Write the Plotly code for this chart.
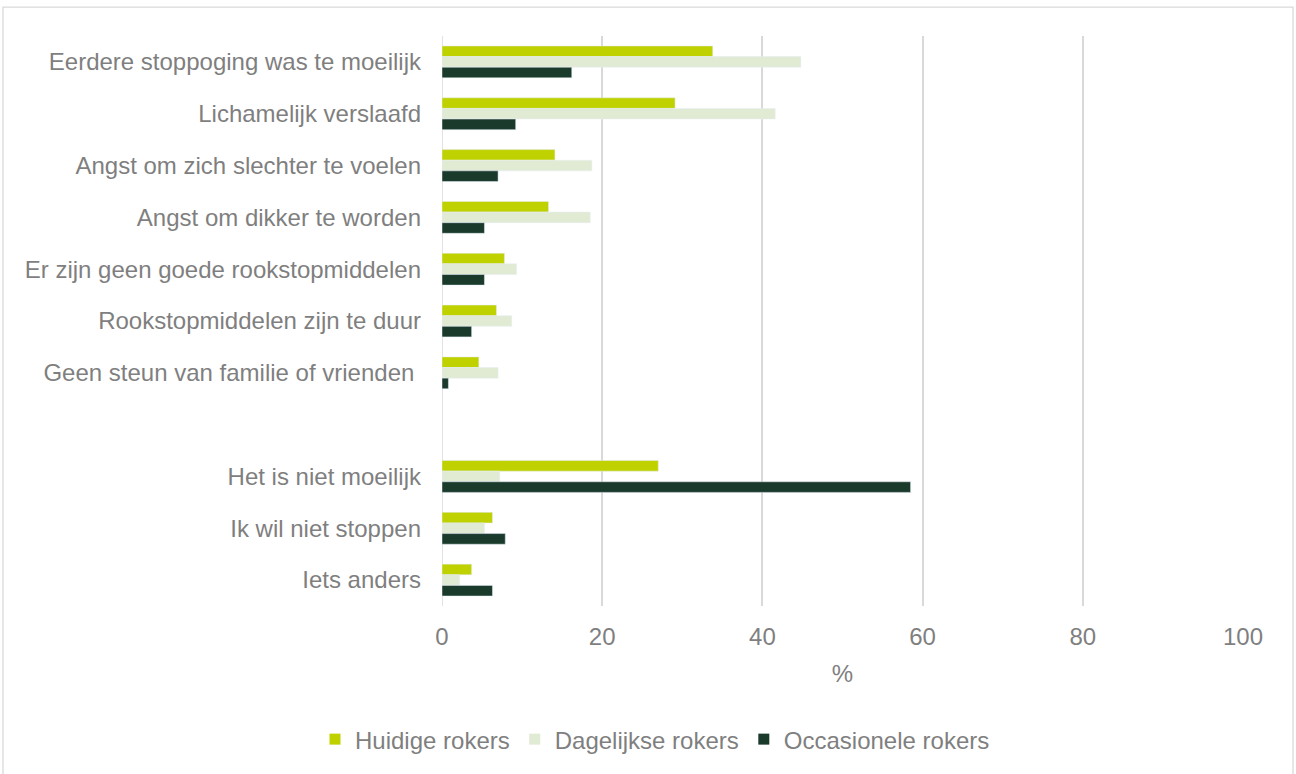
import plotly.graph_objects as go

categories = [
    "Eerdere stoppoging was te moeilijk",
    "Lichamelijk verslaafd",
    "Angst om zich slechter te voelen",
    "Angst om dikker te worden",
    "Er zijn geen goede rookstopmiddelen",
    "Rookstopmiddelen zijn te duur",
    "Geen steun van familie of vrienden ",
    " ",
    "Het is niet moeilijk",
    "Ik wil niet stoppen",
    "Iets anders",
]
huidige = [33.8, 29.1, 14.1, 13.3, 7.8, 6.8, 4.6, None, 27.0, 6.3, 3.7]
dagelijkse = [44.8, 41.6, 18.7, 18.5, 9.3, 8.7, 7.0, None, 7.2, 5.3, 2.2]
occasionele = [16.2, 9.2, 7.0, 5.3, 5.3, 3.7, 0.8, None, 58.5, 7.9, 6.3]

series_names = ["Huidige rokers", "Dagelijkse rokers", "Occasionele rokers"]
series_colors = ["#BFD200", "#E1EBD3", "#1A3A2C"]
series_values = [huidige, dagelijkse, occasionele]

x_ticks = [0, 20, 40, 60, 80, 100]

font_family = "Liberation Sans, Arial, sans-serif"
text_color = "#7F7F7F"
fs = 24

fig = go.Figure()
for name, color, vals in zip(series_names, series_colors, series_values):
    fig.add_trace(go.Bar(y=categories, x=vals, orientation="h", name=name,
                         marker=dict(color=color), showlegend=False))
# legend entries with larger square swatches
for name, color in zip(series_names, series_colors):
    fig.add_trace(go.Scatter(x=[None], y=[None], mode="markers", name=name,
                             marker=dict(symbol="square", size=11, color=color),
                             showlegend=True))

L, R, T, B = 442, 53, 36, 166
W, H = 1296, 774
pw, ph = W - L - R, H - T - B

fig.update_layout(
    width=W, height=H,
    margin=dict(l=L, r=R, t=T, b=B),
    barmode="group",
    bargap=0.385,
    bargroupgap=0,
    plot_bgcolor="white",
    paper_bgcolor="white",
    font=dict(family=font_family, size=fs, color=text_color),
    showlegend=True,
    legend=dict(orientation="h", x=(655 - L) / pw, xanchor="center",
                y=(H - B - 742) / ph, yanchor="middle",
                font=dict(size=fs, color=text_color), traceorder="normal",
                itemwidth=30, tracegroupgap=0),
    xaxis=dict(range=[0, 100], tickvals=x_ticks, showgrid=True, gridcolor="#D9D9D9",
               gridwidth=1.5, zeroline=False, showline=False,
               ticks="outside", ticklen=9, tickcolor="rgba(0,0,0,0)",
               title=dict(text="%", standoff=16, font=dict(size=fs, color=text_color)),
               tickfont=dict(size=fs, color=text_color)),
    yaxis=dict(categoryorder="array", categoryarray=categories, autorange="reversed",
               showgrid=False, zeroline=False, showline=False, ticks="",
               ticklabelstandoff=20,
               tickfont=dict(size=fs, color=text_color)),
    shapes=[dict(type="rect", xref="paper", yref="paper",
                 x0=(3 - L) / pw, x1=(1293 - L) / pw,
                 y0=(H - B - 790) / ph, y1=(H - B - 7) / ph,
                 line=dict(color="#D9D9D9", width=1.3), fillcolor="rgba(0,0,0,0)", layer="below"),
            dict(type="line", xref="x", yref="paper", x0=0, x1=0, y0=0, y1=1,
                 line=dict(color="#D9D9D9", width=1.5), layer="below")],
)

fig.write_html("out.html")
